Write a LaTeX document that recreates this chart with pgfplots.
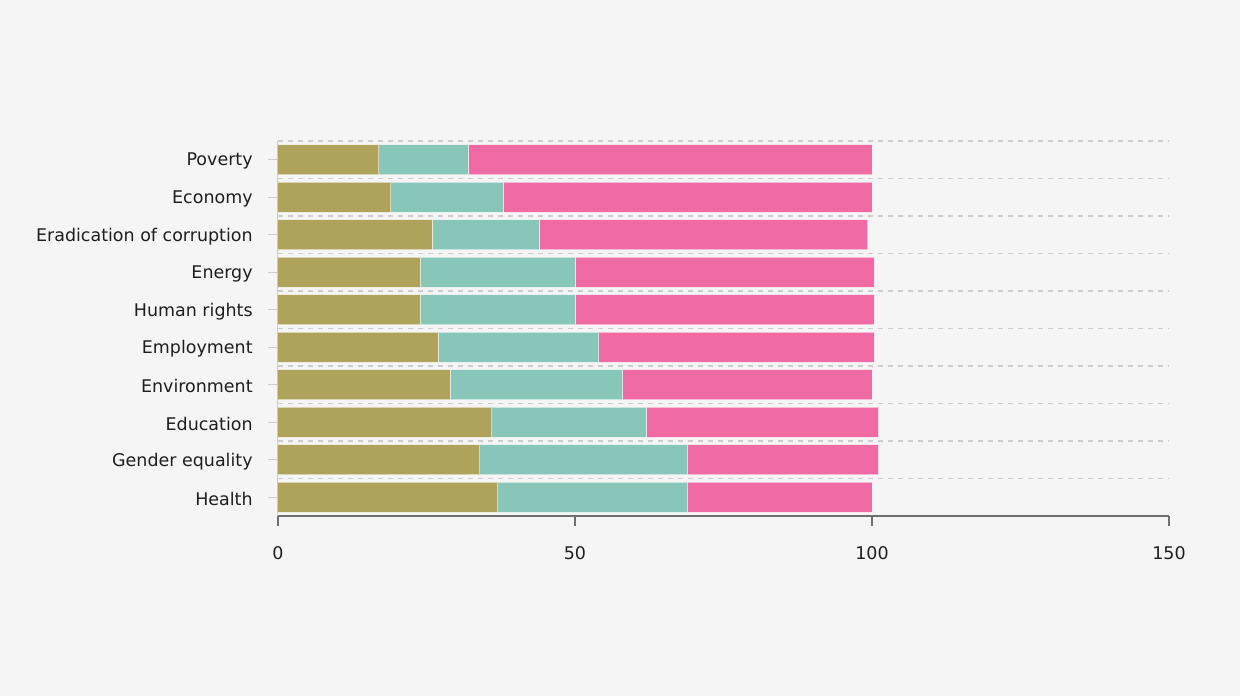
\documentclass[border=0pt]{standalone}
\usepackage{pgfplots}
\pgfplotsset{compat=1.18}
\usepackage{fontspec}
\setmainfont{DejaVu Sans}
\definecolor{bg}{HTML}{F5F5F5}
\definecolor{olive}{HTML}{AFA25A}
\definecolor{teal2}{HTML}{88C6BA}
\definecolor{pink2}{HTML}{F06AA3}
\definecolor{gridc}{HTML}{CDCDCD}
\definecolor{axdark}{HTML}{6E6E6E}
\definecolor{txt}{HTML}{1E1E1E}
\begin{document}
\begin{tikzpicture}
\fill[bg] (0pt,0pt) rectangle (930pt,522pt);
\begin{axis}[
  at={(208.5pt,135pt)}, anchor=south west,
  scale only axis, width=668.25pt, height=281.25pt,
  xbar stacked, bar width=0.81,
  xmin=0, xmax=150, ymin=-0.5, ymax=9.5,
  axis x line*=bottom, axis y line*=left,
  x axis line style={draw=axdark, line width=0.9pt, -},
  y axis line style={draw=gridc, line width=0.75pt, -},
  tick align=outside, major tick length=7.5pt,
  xtick={0,50,100,150},
  xtick style={draw=axdark, line width=0.9pt},
  ytick={0,...,9},
  ytick style={draw=gridc, line width=1pt},
  yticklabels={Health,Gender equality,Education,Environment,Employment,Human rights,Energy,Eradication of corruption,Economy,Poverty},
  ticklabel style={font=\fontsize{13.1pt}{15pt}\selectfont, text=txt},
  /pgf/number format/assume math mode=true,
  yticklabel style={xshift=-8pt, yshift=-1.2pt},
  xticklabel style={yshift=-11.5pt},
  extra y ticks={0.5,1.5,...,9.5},
  extra y tick labels={},
  extra y tick style={major tick length=0pt, grid=major,
     major grid style={draw=gridc, line width=1.4pt, dash pattern=on 3.75pt off 3.75pt}},
  every axis plot/.append style={draw=white, draw opacity=0.55, line width=0.75pt},
]
\addplot[fill=olive] coordinates {(37,0) (34,1) (36,2) (29,3) (27,4) (24,5) (24,6) (26,7) (19,8) (17,9)};
\addplot[fill=teal2] coordinates {(32,0) (35,1) (26,2) (29,3) (27,4) (26,5) (26,6) (18,7) (19,8) (15,9)};
\addplot[fill=pink2] coordinates {(31,0) (32.1,1) (39.1,2) (42,3) (46.4,4) (50.4,5) (50.4,6) (55.3,7) (62,8) (68,9)};
\end{axis}
\end{tikzpicture}
\end{document}
